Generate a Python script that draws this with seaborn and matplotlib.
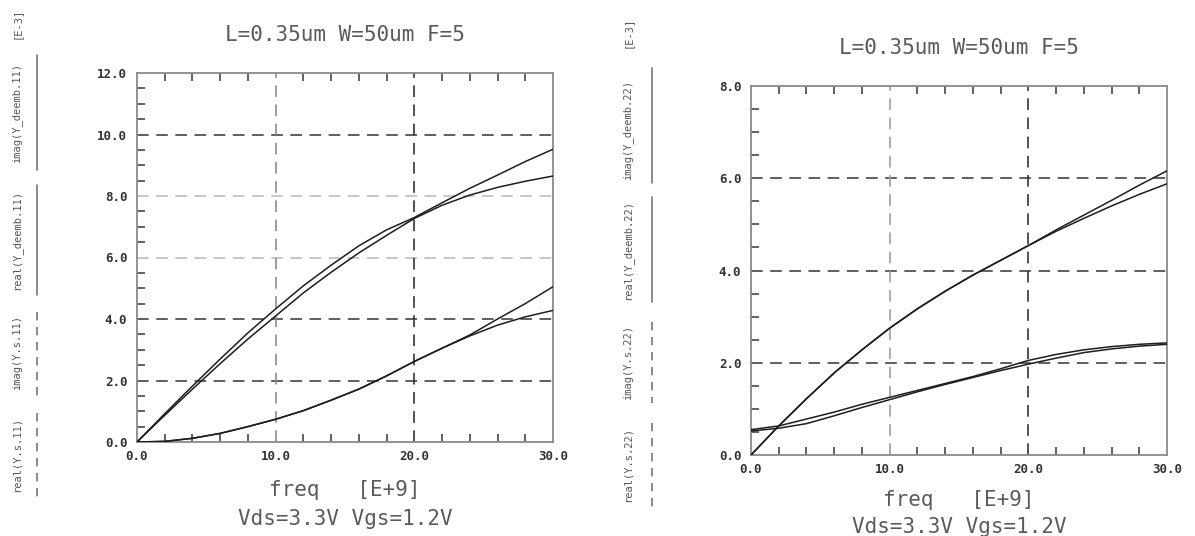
import matplotlib
matplotlib.use("Agg")
import matplotlib.pyplot as plt
import numpy as np
import pandas as pd
import seaborn as sns
from matplotlib.lines import Line2D
from matplotlib.ticker import MultipleLocator, FixedLocator, FormatStrFormatter

# ---------------- data ----------------
freq = [0, 2, 4, 6, 8, 10, 12, 14, 16, 18, 20, 22, 24, 26, 28, 30]   # [E+9] Hz

# Port 1 (left panel), values in [E-3]
imag_deemb_11 = [0, 0.92, 1.82, 2.70, 3.55, 4.33, 5.08, 5.75, 6.38, 6.90, 7.30, 7.78, 8.25, 8.68, 9.12, 9.52]
imag_s_11     = [0, 0.87, 1.72, 2.55, 3.35, 4.10, 4.85, 5.52, 6.15, 6.72, 7.27, 7.70, 8.03, 8.28, 8.48, 8.65]
real_deemb_11 = [0, 0.02, 0.12, 0.28, 0.50, 0.74, 1.02, 1.36, 1.72, 2.15, 2.62, 3.05, 3.48, 4.00, 4.50, 5.05]
real_s_11     = [0, 0.02, 0.12, 0.28, 0.50, 0.74, 1.02, 1.36, 1.72, 2.15, 2.62, 3.05, 3.45, 3.80, 4.07, 4.28]

# Port 2 (right panel), values in [E-3]
imag_deemb_22 = [0, 0.63, 1.22, 1.78, 2.28, 2.75, 3.17, 3.55, 3.90, 4.22, 4.54, 4.88, 5.20, 5.52, 5.85, 6.16]
imag_s_22     = [0, 0.63, 1.22, 1.78, 2.28, 2.75, 3.17, 3.55, 3.90, 4.22, 4.54, 4.85, 5.13, 5.40, 5.65, 5.88]
real_deemb_22 = [0.55, 0.63, 0.78, 0.93, 1.10, 1.25, 1.40, 1.55, 1.70, 1.87, 2.05, 2.18, 2.28, 2.35, 2.40, 2.43]
real_s_22     = [0.52, 0.58, 0.68, 0.85, 1.03, 1.20, 1.37, 1.53, 1.68, 1.83, 1.97, 2.10, 2.22, 2.30, 2.36, 2.40]

title = "L=0.35um W=50um F=5"
xlabel = "freq   [E+9]"
bias = "Vds=3.3V Vgs=1.2V"
xticks = [0, 10, 20, 30]
yticks_left = [0, 2, 4, 6, 8, 10, 12]
yticks_right = [0, 2, 4, 6, 8]
labels_left = ["real(Y.s.11)", "imag(Y.s.11)", "real(Y_deemb.11)", "imag(Y_deemb.11)", "[E-3]"]
labels_right = ["real(Y.s.22)", "imag(Y.s.22)", "real(Y_deemb.22)", "imag(Y_deemb.22)", "[E-3]"]

# ---------------- style ----------------
sns.set_style("white")
plt.rcParams['font.family'] = ['DejaVu Sans Mono', 'DejaVu Sans']

W, H = 1195, 536
fig = plt.figure(figsize=(W / 100, H / 100), dpi=100)
fig.patch.set_facecolor("white")


def fx(px):
    return px / W


def fy(py):
    return 1 - py / H


ax1 = fig.add_axes([fx(137), fy(442), 416 / W, 369 / H])
ax2 = fig.add_axes([fx(751), fy(455), 416 / W, 369 / H])


def draw_curves(ax, series):
    frames = []
    for name, vals in series.items():
        frames.append(pd.DataFrame({"freq": freq, "value": vals, "trace": name}))
    df = pd.concat(frames, ignore_index=True)
    sns.lineplot(data=df, x="freq", y="value", hue="trace",
                 palette={k: "#1e1e1e" for k in series}, linewidth=1.1,
                 legend=False, ax=ax, zorder=5)


def style_axes(ax, ymax, yticks, hgrid, vgrid):
    ax.set_xlim(0, 30)
    ax.set_ylim(0, ymax)
    ax.set_xlabel("")
    ax.set_ylabel("")
    for s in ax.spines.values():
        s.set_color("#8a8a8a")
        s.set_linewidth(1.3)
    ax.xaxis.set_major_locator(FixedLocator(xticks))
    ax.xaxis.set_minor_locator(MultipleLocator(2))
    ax.yaxis.set_major_locator(FixedLocator(yticks))
    ax.yaxis.set_minor_locator(MultipleLocator(0.5))
    ax.xaxis.set_major_formatter(FormatStrFormatter("%.1f"))
    ax.yaxis.set_major_formatter(FormatStrFormatter("%.1f"))
    ax.tick_params(axis="both", which="both", direction="in", top=True, bottom=True,
                   left=True, right=False, color="#555555", width=1.3)
    ax.tick_params(axis="both", which="major", length=0, labelsize=9,
                   labelcolor="#333333")
    ax.tick_params(axis="x", which="major", pad=6)
    ax.tick_params(axis="y", which="major", pad=7)
    ax.tick_params(axis="both", which="minor", length=6)
    for lab in ax.get_xticklabels() + ax.get_yticklabels():
        lab.set_fontweight("bold")
    for y, c in hgrid:
        ax.axhline(y, color=c, lw=1.2, linestyle=(0, (7, 4.5)), zorder=2)
    for x, c in vgrid:
        ax.axvline(x, color=c, lw=1.2, linestyle=(0, (7, 4.5)), zorder=2)


draw_curves(ax1, {"imag_deemb_11": imag_deemb_11, "imag_s_11": imag_s_11,
                  "real_deemb_11": real_deemb_11, "real_s_11": real_s_11})
draw_curves(ax2, {"imag_deemb_22": imag_deemb_22, "imag_s_22": imag_s_22,
                  "real_deemb_22": real_deemb_22, "real_s_22": real_s_22})

style_axes(ax1, 12, yticks_left,
           hgrid=[(2, "#444444"), (4, "#444444"), (6, "#bdbdbd"), (8, "#bdbdbd"), (10, "#444444")],
           vgrid=[(10, "#8c8c8c"), (20, "#333333")])
style_axes(ax2, 8, yticks_right,
           hgrid=[(2, "#444444"), (4, "#444444"), (6, "#444444")],
           vgrid=[(10, "#a0a0a0"), (20, "#333333")])

# titles and axis texts
for cx, ty, xy, by in [(345, 35, 490, 519), (959, 48, 500, 527)]:
    fig.text(fx(cx), fy(ty), title, ha="center", va="center", fontsize=15, color="#5a5a5a")
    fig.text(fx(cx), fy(xy), xlabel, ha="center", va="center", fontsize=15, color="#5a5a5a")
    fig.text(fx(cx), fy(by), bias, ha="center", va="center", fontsize=15, color="#5a5a5a")

# rotated trace-name labels with line-style keys
left_pos = {"text_x": 17, "line_x": 37,
            "centers": [454, 353, 240, 113, 23],
            "lines": [(413, 500, "--"), (312, 400, "--"), (185, 295, "-"), (55, 170, "-")]}
right_pos = {"text_x": 628, "line_x": 652,
             "centers": [464, 362, 250, 130, 32],
             "lines": [(423, 510, "--"), (322, 403, "--"), (197, 302, "-"), (68, 183, "-")]}

for labels, pos in [(labels_left, left_pos), (labels_right, right_pos)]:
    for lab, cy in zip(labels, pos["centers"]):
        fig.text(fx(pos["text_x"]), fy(cy), lab, rotation=90, ha="center", va="center",
                 fontsize=7.5, color="#555555")
    for y0, y1, ls in pos["lines"]:
        dash = (0, (5, 4)) if ls == "--" else "-"
        fig.add_artist(Line2D([fx(pos["line_x"]), fx(pos["line_x"])], [fy(y0), fy(y1)],
                              transform=fig.transFigure, color="#777777", lw=1.2,
                              linestyle=dash))

fig.savefig("out.png", dpi=100, facecolor="white")
